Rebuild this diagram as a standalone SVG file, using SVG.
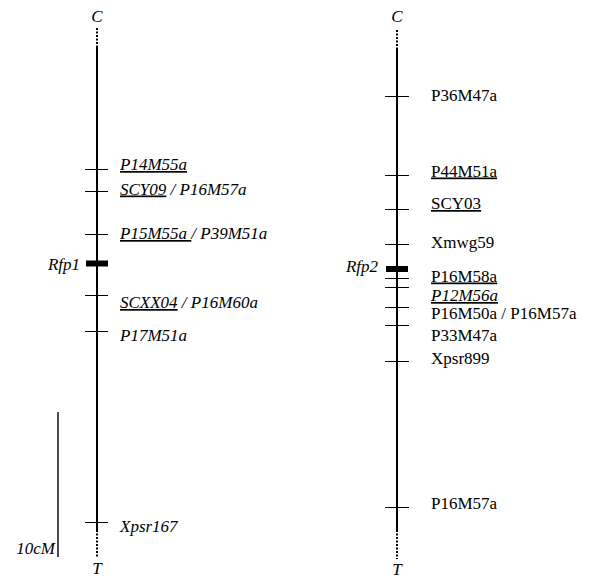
<svg xmlns="http://www.w3.org/2000/svg" width="589" height="578" viewBox="0 0 589 578">
<style>
text{font-family:"Liberation Serif","Times New Roman",serif;font-size:17px;fill:#000}
.it{font-style:italic}
.u{text-decoration:underline}
.chr{stroke:#000;stroke-width:2;fill:none}
.dot{stroke:#000;stroke-width:2;stroke-dasharray:2 1.5;fill:none}
.tick{stroke:#000;stroke-width:1}
.bar{stroke:#000;stroke-width:1.4}
.blk{fill:#000}
</style>
<rect width="589" height="578" fill="#fff"/>
<g id="connectors">
<line class="dot" x1="97" y1="28" x2="97" y2="47"/>
<line class="chr" x1="97" y1="47" x2="97" y2="530"/>
<line class="dot" x1="97" y1="530" x2="97" y2="557"/>
<line class="dot" x1="397" y1="30" x2="397" y2="48"/>
<line class="chr" x1="397" y1="48" x2="397" y2="530"/>
<line class="dot" x1="397" y1="530" x2="397" y2="559"/>
<line class="bar" x1="58" y1="412" x2="58" y2="557"/>
</g>
<g id="chr1">
<text class="it" x="97" y="22" text-anchor="middle">C</text>
<text class="it" x="97" y="574" text-anchor="middle">T</text>
<text class="it" x="55" y="554" text-anchor="end">10cM</text>
<g id="m-P14M55a"><line class="tick" x1="85" y1="169.5" x2="108" y2="169.5"/><text class="it" x="120" y="170"><tspan class="u">P14M55a</tspan></text></g>
<g id="m-SCY09"><line class="tick" x1="85" y1="191.5" x2="108" y2="191.5"/><text class="it" x="120" y="194.5"><tspan class="u">SCY09</tspan> / P16M57a</text></g>
<g id="m-P15M55a"><line class="tick" x1="85" y1="234.5" x2="108" y2="234.5"/><text class="it" x="120" y="239"><tspan class="u">P15M55a </tspan>/ P39M51a</text></g>
<g id="Rfp1"><rect class="blk" x="86" y="260.5" width="22" height="6"/><text class="it" x="80" y="270" text-anchor="end">Rfp1</text></g>
<g id="m-SCXX04"><line class="tick" x1="85" y1="295.5" x2="108" y2="295.5"/><text class="it" x="120" y="308"><tspan class="u">SCXX04</tspan> / P16M60a</text></g>
<g id="m-P17M51a"><line class="tick" x1="85" y1="331.5" x2="108" y2="331.5"/><text class="it" x="120" y="341">P17M51a</text></g>
<g id="m-Xpsr167"><line class="tick" x1="85" y1="522.5" x2="108" y2="522.5"/><text class="it" x="120" y="532">Xpsr167</text></g>
</g>
<g id="chr2">
<text class="it" x="397" y="22" text-anchor="middle">C</text>
<text class="it" x="397" y="575" text-anchor="middle">T</text>
<g id="m-P36M47a"><line class="tick" x1="385" y1="96.5" x2="409" y2="96.5"/><text x="431" y="100.5">P36M47a</text></g>
<g id="m-P44M51a"><line class="tick" x1="385" y1="175.5" x2="409" y2="175.5"/><text x="431" y="176.5"><tspan class="u">P44M51a</tspan></text></g>
<g id="m-SCY03"><line class="tick" x1="385" y1="209.5" x2="409" y2="209.5"/><text x="431" y="209"><tspan class="u">SCY03</tspan></text></g>
<g id="m-Xmwg59"><line class="tick" x1="385" y1="244.5" x2="409" y2="244.5"/><text x="431" y="248">Xmwg59</text></g>
<g id="Rfp2"><rect class="blk" x="386" y="266" width="22" height="6"/><text class="it" x="378" y="272" text-anchor="end">Rfp2</text></g>
<g id="m-P16M58a"><line class="tick" x1="385" y1="278.5" x2="409" y2="278.5"/><text x="431" y="281.5"><tspan class="u">P16M58a</tspan></text></g>
<g id="m-P12M56a"><line class="tick" x1="385" y1="287.5" x2="409" y2="287.5"/><text class="it" x="431" y="301"><tspan class="u">P12M56a</tspan></text></g>
<g id="m-P16M50a"><line class="tick" x1="385" y1="307.5" x2="409" y2="307.5"/><text x="431" y="319">P16M50a / P16M57a</text></g>
<g id="m-P33M47a"><line class="tick" x1="385" y1="325.5" x2="409" y2="325.5"/><text x="431" y="341">P33M47a</text></g>
<g id="m-Xpsr899"><line class="tick" x1="385" y1="361.5" x2="409" y2="361.5"/><text x="431" y="364">Xpsr899</text></g>
<g id="m-P16M57a"><line class="tick" x1="385" y1="507.5" x2="409" y2="507.5"/><text x="431" y="508.5">P16M57a</text></g>
</g>
</svg>
